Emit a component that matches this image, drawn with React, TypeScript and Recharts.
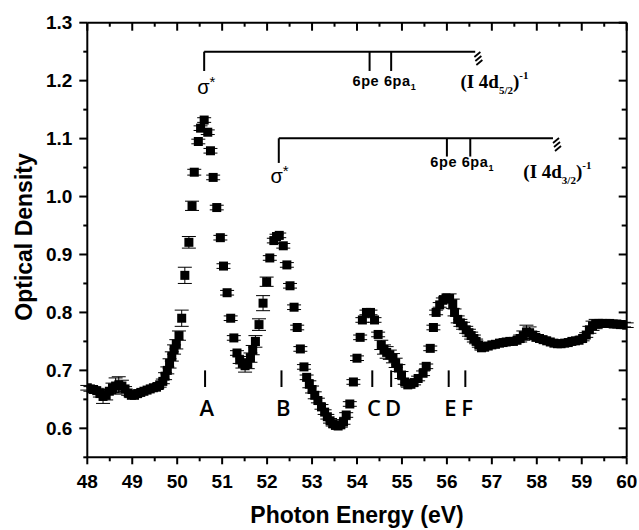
import React from 'react';
import { ScatterChart, Scatter, XAxis, YAxis, ErrorBar, ReferenceLine, ReferenceDot } from 'recharts';

// ---- measured data (photon energy in eV, optical density, error) ----
const energy = [
  48.00, 48.07, 48.14, 48.21, 48.28, 48.35, 48.42, 48.49, 48.56, 48.63,
  48.70, 48.77, 48.84, 48.91, 48.98, 49.05, 49.12, 49.19, 49.26, 49.33,
  49.40, 49.47, 49.54, 49.61, 49.68, 49.73, 49.78, 49.83, 49.88, 49.93,
  49.98, 50.04, 50.10, 50.17, 50.26, 50.33, 50.38, 50.47, 50.52, 50.60,
  50.68, 50.74, 50.80, 50.88, 50.96, 51.03, 51.11, 51.19, 51.26, 51.33,
  51.39, 51.45, 51.51, 51.57, 51.63, 51.68, 51.74, 51.82, 51.91, 51.99,
  52.06, 52.15, 52.21, 52.27, 52.36, 52.44, 52.51, 52.60, 52.67, 52.74,
  52.82, 52.88, 52.94, 53.00, 53.06, 53.13, 53.21, 53.28, 53.34, 53.40,
  53.46, 53.52, 53.58, 53.64, 53.70, 53.76, 53.84, 53.92, 54.00, 54.07,
  54.12, 54.21, 54.30, 54.39, 54.47, 54.54, 54.60, 54.66, 54.73, 54.80,
  54.86, 54.92, 54.99, 55.06, 55.13, 55.20, 55.27, 55.36, 55.47, 55.54,
  55.63, 55.70, 55.76, 55.84, 55.91, 55.98, 56.06, 56.13, 56.17, 56.24,
  56.30, 56.36, 56.43, 56.49, 56.54, 56.60, 56.65, 56.71, 56.77, 56.84,
  56.92, 57.00, 57.08, 57.17, 57.25, 57.32, 57.40, 57.48, 57.56, 57.63,
  57.70, 57.77, 57.84, 57.91, 57.98, 58.06, 58.14, 58.22, 58.30, 58.38,
  58.46, 58.54, 58.62, 58.70, 58.78, 58.86, 58.94, 59.02, 59.10, 59.17,
  59.24, 59.31, 59.38, 59.46, 59.54, 59.62, 59.70, 59.78, 59.86, 59.94,
  60.00,
];
const opticalDensity = [
  0.670, 0.668, 0.667, 0.665, 0.660, 0.655, 0.657, 0.664, 0.670, 0.673,
  0.675, 0.673, 0.668, 0.661, 0.657, 0.657, 0.660, 0.662, 0.664, 0.666,
  0.668, 0.670, 0.671, 0.675, 0.681, 0.690, 0.700, 0.712, 0.724, 0.736,
  0.745, 0.760, 0.790, 0.864, 0.921, 0.984, 1.042, 1.095, 1.118, 1.132,
  1.111, 1.079, 1.033, 0.981, 0.929, 0.880, 0.834, 0.790, 0.756, 0.730,
  0.718, 0.712, 0.708, 0.711, 0.722, 0.735, 0.750, 0.779, 0.816, 0.853,
  0.894, 0.924, 0.931, 0.933, 0.915, 0.882, 0.846, 0.809, 0.774, 0.737,
  0.706, 0.688, 0.676, 0.667, 0.657, 0.648, 0.637, 0.628, 0.620, 0.613,
  0.608, 0.605, 0.604, 0.606, 0.611, 0.623, 0.642, 0.680, 0.721, 0.757,
  0.787, 0.800, 0.800, 0.787, 0.762, 0.744, 0.736, 0.731, 0.727, 0.721,
  0.713, 0.704, 0.692, 0.680, 0.675, 0.676, 0.679, 0.686, 0.695, 0.707,
  0.738, 0.774, 0.800, 0.813, 0.821, 0.825, 0.824, 0.815, 0.800, 0.788,
  0.782, 0.777, 0.770, 0.765, 0.760, 0.755, 0.750, 0.744, 0.739, 0.740,
  0.742, 0.744, 0.745, 0.747, 0.748, 0.749, 0.750, 0.750, 0.752, 0.755,
  0.760, 0.766, 0.765, 0.761, 0.757, 0.755, 0.753, 0.751, 0.749, 0.747,
  0.746, 0.746, 0.747, 0.748, 0.750, 0.751, 0.752, 0.755, 0.761, 0.770,
  0.777, 0.780, 0.781, 0.781, 0.781, 0.781, 0.780, 0.780, 0.779, 0.779,
  0.778,
];
const uncertainty = [
  0.004, 0.004, 0.004, 0.004, 0.006, 0.012, 0.008, 0.004, 0.008, 0.014,
  0.014, 0.010, 0.004, 0.004, 0.004, 0.004, 0.004, 0.004, 0.004, 0.004,
  0.004, 0.004, 0.004, 0.004, 0.004, 0.006, 0.006, 0.008, 0.008, 0.008,
  0.008, 0.008, 0.014, 0.014, 0.010, 0.008, 0.005, 0.004, 0.004, 0.004,
  0.004, 0.004, 0.004, 0.004, 0.004, 0.004, 0.004, 0.004, 0.004, 0.004,
  0.006, 0.008, 0.011, 0.008, 0.008, 0.008, 0.010, 0.010, 0.013, 0.008,
  0.004, 0.004, 0.004, 0.004, 0.004, 0.004, 0.004, 0.004, 0.004, 0.004,
  0.004, 0.004, 0.006, 0.006, 0.006, 0.004, 0.004, 0.004, 0.004, 0.004,
  0.004, 0.004, 0.004, 0.004, 0.004, 0.004, 0.004, 0.004, 0.004, 0.004,
  0.004, 0.004, 0.004, 0.004, 0.004, 0.008, 0.008, 0.010, 0.008, 0.008,
  0.008, 0.006, 0.006, 0.004, 0.004, 0.004, 0.004, 0.004, 0.004, 0.004,
  0.004, 0.004, 0.004, 0.004, 0.004, 0.004, 0.008, 0.008, 0.006, 0.006,
  0.006, 0.006, 0.006, 0.006, 0.006, 0.006, 0.004, 0.004, 0.004, 0.004,
  0.004, 0.004, 0.004, 0.004, 0.004, 0.004, 0.004, 0.004, 0.004, 0.006,
  0.008, 0.012, 0.010, 0.006, 0.004, 0.004, 0.004, 0.004, 0.004, 0.004,
  0.004, 0.004, 0.004, 0.004, 0.004, 0.004, 0.004, 0.004, 0.004, 0.006,
  0.008, 0.008, 0.006, 0.004, 0.004, 0.004, 0.004, 0.004, 0.004, 0.004,
  0.004,
];

// ---- axis ticks ----
const xMajorTicks = [48, 49, 50, 51, 52, 53, 54, 55, 56, 57, 58, 59, 60];
const xMinorTicks = [48.5, 49.5, 50.5, 51.5, 52.5, 53.5, 54.5, 55.5, 56.5, 57.5, 58.5, 59.5];
const yMajorTicks = [0.6, 0.7, 0.8, 0.9, 1.0, 1.1, 1.2, 1.3];
const yMinorTicks = [0.55, 0.65, 0.75, 0.85, 0.95, 1.05, 1.15, 1.25];

// ---- feature markers A-F ----
const featureLabels = ['A', 'B', 'C', 'D', 'E', 'F'];
const featureEnergies = [50.62, 52.32, 54.34, 54.76, 56.04, 56.41];

// ---- Rydberg series brackets (I 4d5/2 and I 4d3/2) ----
const seriesStart = [50.6, 52.26];
const seriesEnd = [56.63, 58.36];
const seriesLevel = [1.25, 1.1005];
const seriesDrop = [1.2167, 1.058];
const series6pe = [54.28, 56.0];
const series6pa = [54.76, 56.52];
const seriesTickDrop = [1.2167, 1.069];
const seriesSub = ['5/2', '3/2'];

const FONT = "'Liberation Sans', Arial, Helvetica, sans-serif";
const SERIF = "'Liberation Serif', 'Times New Roman', serif";
const INK = '#000';

const xAll = [...xMajorTicks, ...xMinorTicks].sort((a, b) => a - b);
const yAll = [...yMajorTicks, ...yMinorTicks].sort((a, b) => a - b);
const isIn = (v: number, arr: number[]) => arr.some((t) => Math.abs(t - v) < 1e-6);

const BottomTick = (p: any) => {
  const v = p.payload.value;
  const major = isIn(v, xMajorTicks);
  return (
    <g>
      <line x1={p.x} x2={p.x} y1={p.y} y2={p.y + (major ? 7 : 4)} stroke={INK} strokeWidth={2} />
      {major && (
        <text x={p.x} y={p.y + 31} textAnchor="middle" fontFamily={FONT} fontWeight="bold" fontSize={19} fill={INK}>
          {v}
        </text>
      )}
    </g>
  );
};
const TopTick = (p: any) => {
  const major = isIn(p.payload.value, xMajorTicks);
  return <line x1={p.x} x2={p.x} y1={p.y} y2={p.y + (major ? 8 : 4)} stroke={INK} strokeWidth={2} />;
};
const LeftTick = (p: any) => {
  const v = p.payload.value;
  const major = isIn(v, yMajorTicks);
  return (
    <g>
      <line x1={p.x} x2={p.x - (major ? 8 : 4)} y1={p.y} y2={p.y} stroke={INK} strokeWidth={2} />
      {major && (
        <text x={p.x - 15} y={p.y + 6.5} textAnchor="end" fontFamily={FONT} fontWeight="bold" fontSize={19} fill={INK}>
          {v.toFixed(1)}
        </text>
      )}
    </g>
  );
};
const RightTick = (p: any) => {
  const major = isIn(p.payload.value, yMajorTicks);
  return <line x1={p.x} x2={p.x - (major ? 8 : 5)} y1={p.y} y2={p.y} stroke={INK} strokeWidth={2} />;
};

const XTitle = (p: any) => {
  const vb = p.viewBox || { x: 87.3, y: 457.3, width: 539.4, height: 72.7 };
  return (
    <text x={vb.x + vb.width / 2} y={vb.y + 66} textAnchor="middle" fontFamily={FONT} fontWeight="bold" fontSize={23} fill={INK}>
      Photon Energy (eV)
    </text>
  );
};
const YTitle = (p: any) => {
  const vb = p.viewBox || { x: 0, y: 22.7, width: 87.3, height: 434.6 };
  const cx = 32;
  const cy = vb.y + vb.height / 2 - 3;
  return (
    <text x={cx} y={cy} transform={`rotate(-90, ${cx}, ${cy})`} textAnchor="middle" fontFamily={FONT} fontWeight="bold" fontSize={23} fill={INK}>
      Optical Density
    </text>
  );
};

const SquareMark = (p: any) => {
  if (p.cx == null || p.cy == null) return <g />;
  return <rect x={p.cx - 4.5} y={p.cy - 4.5} width={9} height={9} fill={INK} />;
};
const Empty = () => <g />;

const vbOf = (p: any) => p.viewBox || { x: 0, y: 0 };

const annotate = (key: string, x: number, y: number, render: (vx: number, vy: number) => any) => (
  <ReferenceDot
    key={key}
    x={x}
    y={y}
    r={0}
    fill="none"
    stroke="none"
    isFront
    label={(p: any) => {
      const vb = vbOf(p);
      return render(vb.x + (vb.width || 0) / 2, vb.y + (vb.height || 0) / 2);
    }}
  />
);

const seg = (key: string, x1: number, y1: number, x2: number, y2: number) => (
  <ReferenceLine key={key} segment={[{ x: x1, y: y1 }, { x: x2, y: y2 }]} stroke={INK} strokeWidth={2} />
);

export default function App() {
  const rows = energy.map((x, i) => ({ x, y: opticalDensity[i], err: uncertainty[i] }));

  const brackets: any[] = [];
  seriesStart.forEach((s, i) => {
    brackets.push(seg(`h${i}`, s, seriesLevel[i], seriesEnd[i], seriesLevel[i]));
    brackets.push(seg(`v${i}`, s, seriesLevel[i], s, seriesDrop[i]));
    brackets.push(seg(`pe${i}`, series6pe[i], seriesLevel[i], series6pe[i], seriesTickDrop[i]));
    brackets.push(seg(`pa${i}`, series6pa[i], seriesLevel[i], series6pa[i], seriesTickDrop[i]));
  });

  const features = featureEnergies.map((e, i) => seg(`f${i}`, e, 0.700, e, 0.6713));
  const featureText = featureEnergies.map((e, i) =>
    annotate(`ft${i}`, e + 0.04, 0.6213, (vx, vy) => (
      <text x={vx} y={vy} textAnchor="middle" fontFamily="'Open Sans', sans-serif" fontWeight={600} fontSize={22} fill={INK}>
        {featureLabels[i]}
      </text>
    ))
  );

  const sigma = (k: string, x: number, y: number) =>
    annotate(k, x, y, (vx, vy) => (
      <text x={vx - 7} y={vy} fontFamily={FONT} fontSize={20} fill={INK}>
        σ<tspan dy={-7} fontSize={15}>*</tspan>
      </text>
    ));

  const peLabel = (k: string, x: number, y: number) =>
    annotate(k, x, y, (vx, vy) => (
      <text x={vx} y={vy} fontFamily={FONT} fontWeight="bold" fontSize={14.5} letterSpacing={0.6} fill={INK}>
        6pe 6pa<tspan dy={4} fontSize={9}>1</tspan>
      </text>
    ));

  const edgeLabel = (k: string, x: number, y: number, sub: string) =>
    annotate(k, x, y, (vx, vy) => (
      <text x={vx} y={vy} fontFamily={SERIF} fontWeight="bold" fontSize={19} fill={INK}>
        (I 4d<tspan dy={6} fontSize={11}>{sub}</tspan>
        <tspan dy={-6}>)</tspan>
        <tspan dy={-9} fontSize={11}>-1</tspan>
      </text>
    ));

  const hatch = (k: string, x: number, y: number) =>
    annotate(k, x, y, (vx, vy) => (
      <g stroke={INK} strokeWidth={1.8}>
        <line x1={vx - 4} y1={vy - 3} x2={vx + 2} y2={vy - 8} />
        <line x1={vx - 3} y1={vy + 1} x2={vx + 3} y2={vy - 4} />
        <line x1={vx - 2} y1={vy + 5} x2={vx + 4} y2={vy} />
      </g>
    ));

  return (
    <div style={{ position: 'absolute', left: 0, top: 0, background: '#fff' }}>
      <ScatterChart width={639} height={530} margin={{ top: 0, right: 0, bottom: 0, left: 0 }}>
        <XAxis
          xAxisId={0}
          dataKey="x"
          type="number"
          domain={[48, 60]}
          ticks={xAll}
          interval={0}
          tickSize={0}
          tickMargin={0}
          tickLine={false}
          tick={BottomTick}
          axisLine={{ stroke: INK, strokeWidth: 2 }}
          height={72.7}
          allowDataOverflow
          label={XTitle}
        />
        <XAxis
          xAxisId="top"
          orientation="top"
          dataKey="x"
          type="number"
          domain={[48, 60]}
          ticks={xAll}
          interval={0}
          tickSize={0}
          tickMargin={0}
          tickLine={false}
          tick={TopTick}
          axisLine={{ stroke: INK, strokeWidth: 2 }}
          height={22.7}
          allowDataOverflow
        />
        <YAxis
          yAxisId={0}
          dataKey="y"
          type="number"
          domain={[0.55, 1.3]}
          ticks={yAll}
          interval={0}
          tickSize={0}
          tickMargin={0}
          tickLine={false}
          tick={LeftTick}
          axisLine={{ stroke: INK, strokeWidth: 2 }}
          width={87.3}
          allowDataOverflow
          label={YTitle}
        />
        <YAxis
          yAxisId="right"
          orientation="right"
          dataKey="y"
          type="number"
          domain={[0.55, 1.3]}
          ticks={yAll}
          interval={0}
          tickSize={0}
          tickMargin={0}
          tickLine={false}
          tick={RightTick}
          axisLine={{ stroke: INK, strokeWidth: 2 }}
          width={12.3}
          allowDataOverflow
        />
        <Scatter data={rows} xAxisId={0} yAxisId={0} shape={SquareMark} isAnimationActive={false}>
          <ErrorBar dataKey="err" direction="y" width={7} stroke={INK} strokeWidth={1} isAnimationActive={false} />
        </Scatter>
        <Scatter data={rows} xAxisId="top" yAxisId="right" shape={Empty} isAnimationActive={false} />
        {brackets}
        {features}
        {featureText}
        {sigma('s0', 50.6, 1.177)}
        {sigma('s1', 52.23, 1.024)}
        {peLabel('p0', 53.9, 1.1908)}
        {peLabel('p1', 55.63, 1.0515)}
        {edgeLabel('e0', 56.3, 1.188, seriesSub[0])}
        {edgeLabel('e1', 57.7, 1.032, seriesSub[1])}
        {hatch('h0', 56.7, 1.2356)}
        {hatch('h1', 58.45, 1.0872)}
      </ScatterChart>
    </div>
  );
}
